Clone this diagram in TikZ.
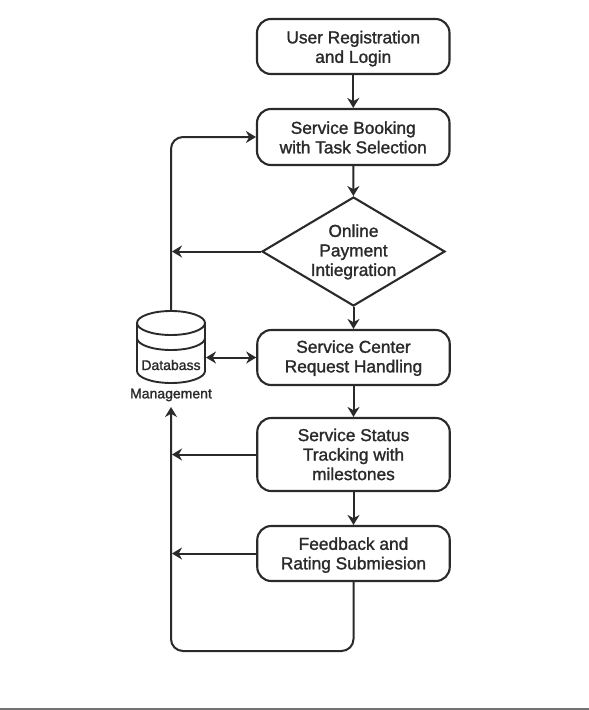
\documentclass[tikz,border=0pt]{standalone}
\usepackage{fontspec}
\setmainfont[FakeBold=1.4]{Liberation Sans}
\usetikzlibrary{arrows.meta,shapes.geometric}
\definecolor{ink}{HTML}{2A2A2A}
\newcommand{\lbl}[2][-7pt]{\raisebox{#1}[0pt][0pt]{\begin{tabular}{@{}c@{}}#2\end{tabular}}}
\tikzset{
  every node/.style={text=ink,font=\fontsize{17.3}{19.5}\selectfont,align=center},
  flowbox/.style={draw=ink,line width=2.1pt,rounded corners=14pt,minimum width=192.5pt,inner sep=0pt},
  flowdiamond/.style={draw=ink,line width=2.1pt,diamond,aspect=1.68,minimum width=183pt,minimum height=109pt,inner sep=0pt},
  link/.style={draw=ink,line width=2pt,-{Stealth[length=10pt,width=12pt]}},
  bothlink/.style={draw=ink,line width=2pt,{Stealth[length=10pt,width=12pt]}-{Stealth[length=10pt,width=12pt]}},
  smalltext/.style={font=\fontsize{14}{16}\selectfont}
}
\begin{document}
\begin{tikzpicture}[x=1pt,y=-1pt]
\useasboundingbox (0,0) rectangle (589,710);
\fill[white] (0,0) rectangle (589,710);
\draw[gray!90!black,line width=1.2pt] (0,709) -- (589,709);
\node[flowbox,minimum height=55pt] (reg) at (353.25,46.5) {\lbl{User Registration\\and Login}};
\node[flowbox,minimum height=56pt] (book) at (353.25,137) {\lbl{Service Booking\\with Task Selection}};
\node[flowdiamond] (pay) at (353.5,251.5) {\lbl[-5.3pt]{Online\\Payment\\Intiegration}};
\node[flowbox,minimum height=55pt] (center) at (353.5,357.5) {\lbl[-5.5pt]{Service Center\\Request Handling}};
\node[flowbox,minimum height=73pt] (track) at (353.5,454.5) {\lbl[-6.5pt]{Service Status\\Tracking with\\milestones}};
\node[flowbox,minimum height=55pt] (fb) at (353.5,553.5) {\lbl[-6.5pt]{Feedback and\\Rating Submiesion}};
% database
\draw[draw=ink,line width=1.9pt,fill=white] (137,323) -- (137,371) arc[start angle=180,end angle=0,x radius=34,y radius=12] -- (205,323);
\draw[draw=ink,line width=1.9pt,fill=white] (137,323) arc[start angle=180,end angle=-180,x radius=34,y radius=12];
\draw[draw=ink,line width=1.9pt] (137,338) arc[start angle=180,end angle=0,x radius=34,y radius=12];
\node[smalltext,inner sep=0pt,minimum width=68pt,minimum height=72pt] (db) at (171,347) {};
\node[smalltext,inner sep=0pt] (dbname) at (171,365) {Databass};
\node[smalltext,inner sep=0pt] (mgmt) at (171,395) {Management};
\coordinate (dbtop) at (171,311);
\coordinate (bend) at (171,651);
\coordinate (backin) at (171,407);
\coordinate (trunkpay) at (172,251.5);
\coordinate (trunktrack) at (172,454.5);
\coordinate (trunkfb) at (172,553.5);
\coordinate (dbright) at (206,357.5);
% connectors
\draw[link] (reg) -- (book);
\draw[link] (book) -- (pay);
\draw[link] (pay) -- (center);
\draw[link] (center) -- (track);
\draw[link] (track) -- (fb);
\draw[link,rounded corners=12pt] (dbtop) |- (book.west);
\draw[link] (pay.west) -- (trunkpay);
\draw[bothlink] (dbright) -- (center.west);
\draw[link] (track.west) -- (trunktrack);
\draw[link] (fb.west) -- (trunkfb);
\draw[link,rounded corners=12pt] (fb.south) |- (bend) -- (backin);
\end{tikzpicture}
\end{document}
